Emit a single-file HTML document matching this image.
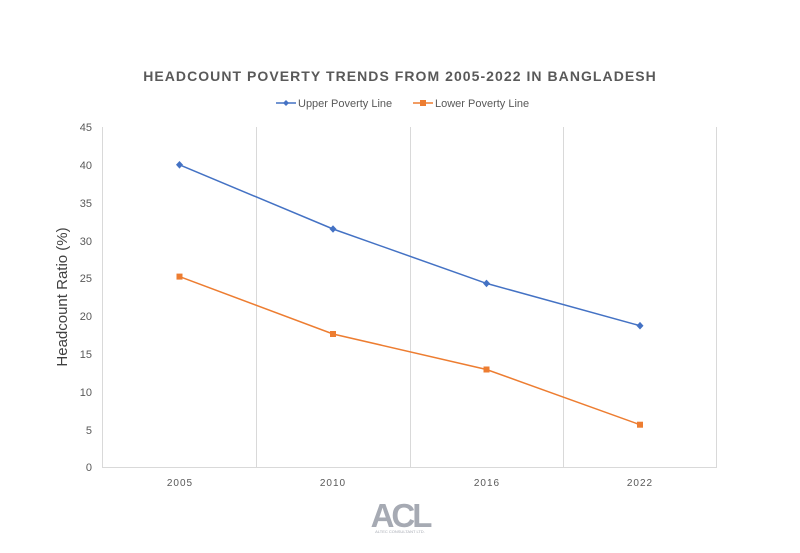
<!DOCTYPE html>
<html><head><meta charset="utf-8"><style>body{margin:0;background:#fff}svg{display:block}</style></head>
<body>
<svg width="800" height="553" viewBox="0 0 800 553" xmlns="http://www.w3.org/2000/svg" font-family="Liberation Sans, sans-serif">
<rect width="800" height="553" fill="#fff"/>
<text x="400" y="81" text-anchor="middle" font-size="14" font-weight="bold" fill="#595959" letter-spacing="1.05">HEADCOUNT POVERTY TRENDS FROM 2005-2022 IN BANGLADESH</text>
<g font-size="11" fill="#595959">
<line x1="276" y1="103" x2="296" y2="103" stroke="#4472c4" stroke-width="1.5"/>
<path d="M286 100 L289 103 L286 106 L283 103Z" fill="#4472c4"/>
<text x="298" y="107">Upper Poverty Line</text>
<line x1="413" y1="103" x2="433" y2="103" stroke="#ed7d31" stroke-width="1.5"/>
<rect x="420" y="100" width="6" height="6" fill="#ed7d31"/>
<text x="435" y="107">Lower Poverty Line</text>
</g>
<g stroke="#d9d9d9" stroke-width="1">
<line x1="102.5" y1="127" x2="102.5" y2="467"/>
<line x1="256.5" y1="127" x2="256.5" y2="467"/>
<line x1="410.5" y1="127" x2="410.5" y2="467"/>
<line x1="563.5" y1="127" x2="563.5" y2="467"/>
<line x1="716.5" y1="127" x2="716.5" y2="467"/>
<line x1="102" y1="467.5" x2="717" y2="467.5"/>
</g>
<g font-size="11" fill="#595959" text-anchor="end">
<text x="92" y="131">45</text><text x="92" y="169">40</text><text x="92" y="207">35</text>
<text x="92" y="245">30</text><text x="92" y="282">25</text><text x="92" y="320">20</text>
<text x="92" y="358">15</text><text x="92" y="396">10</text><text x="92" y="434">5</text><text x="92" y="471">0</text>
</g>
<g font-size="10" fill="#595959" text-anchor="middle" letter-spacing="1">
<text x="180" y="486">2005</text><text x="333" y="486">2010</text><text x="487" y="486">2016</text><text x="640" y="486">2022</text>
</g>
<text transform="translate(67,297) rotate(-90)" text-anchor="middle" font-size="15" fill="#404040">Headcount Ratio (%)</text>
<polyline points="179.5,164.8 333,229 486.5,283.4 640,325.7" fill="none" stroke="#4472c4" stroke-width="1.5"/>
<g fill="#4472c4">
<path d="M179.5 161 l3.5 3.8 l-3.5 3.8 l-3.5 -3.8Z"/><path d="M333 225.2 l3.5 3.8 l-3.5 3.8 l-3.5 -3.8Z"/>
<path d="M486.5 279.6 l3.5 3.8 l-3.5 3.8 l-3.5 -3.8Z"/><path d="M640 321.9 l3.5 3.8 l-3.5 3.8 l-3.5 -3.8Z"/>
</g>
<polyline points="179.5,276.6 333,334 486.5,369.5 640,424.7" fill="none" stroke="#ed7d31" stroke-width="1.5"/>
<g fill="#ed7d31">
<rect x="176.5" y="273.6" width="6" height="6"/><rect x="330" y="331" width="6" height="6"/>
<rect x="483.5" y="366.5" width="6" height="6"/><rect x="637" y="421.7" width="6" height="6"/>
</g>
<text x="400" y="527" text-anchor="middle" font-size="33" font-weight="bold" fill="#a6aab3" letter-spacing="-3">ACL</text>
<text x="400" y="533" text-anchor="middle" font-size="4" fill="#a6aab3">ALTEC CONSULTANT LTD.</text>
</svg>
</body></html>
